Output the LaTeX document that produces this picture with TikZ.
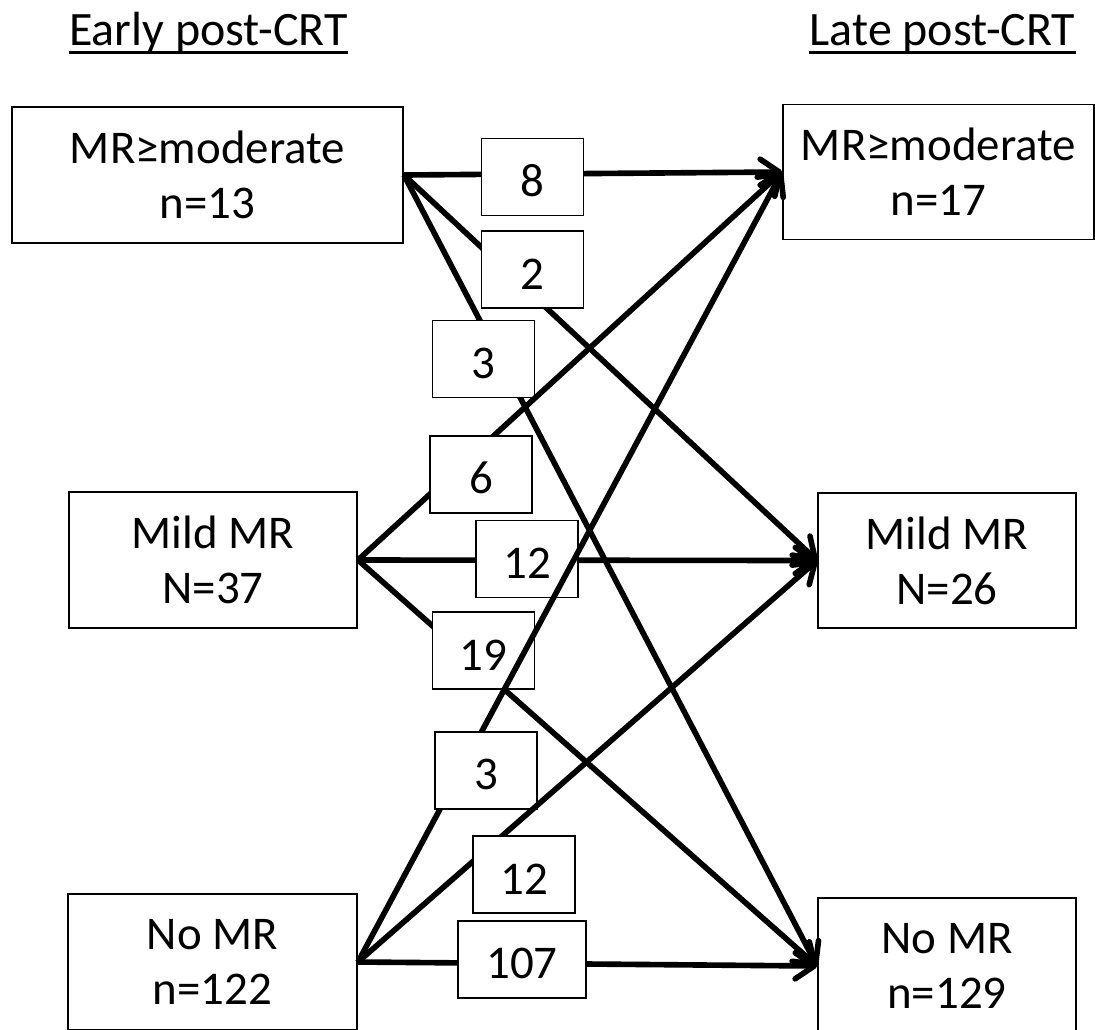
\documentclass[tikz,border=0pt]{standalone}
\usepackage{fontspec}
\setmainfont{Carlito}
\usepackage{tikz}
\usetikzlibrary{arrows.meta, positioning}

\begin{document}
\begin{tikzpicture}[x=0.02cm, y=-0.02cm, >={Straight Barb[length=0.38cm, width=0.52cm, round]},
    flow/.style={->, line width=3.2pt},
    grp/.style={draw, line width=1.1pt, inner sep=0pt, minimum height=2.72cm, align=center,
                font=\fontsize{26.7}{31.3}\selectfont},
    cnt/.style={draw, fill=white, line width=1pt, inner sep=0pt, minimum width=2.04cm,
                minimum height=1.54cm, text height=0.78cm, font=\fontsize{26.7}{31.3}\selectfont},
    hdr/.style={inner sep=0pt, anchor=base, font=\fontsize{27.3}{32}\selectfont}]
    \useasboundingbox (0,0) rectangle (1095,1029);
    % column titles, underlined
    \node[hdr] (early) at (208.5,45) {Early post-CRT};
    \node[hdr] (late) at (942.5,45) {Late post-CRT};
    \draw[line width=0.06cm] ([yshift=-0.15cm]early.base west) -- ([yshift=-0.15cm]early.base east);
    \draw[line width=0.06cm] ([yshift=-0.15cm]late.base west) -- ([yshift=-0.15cm]late.base east);
    % early groups (left)
    \node[grp, minimum width=7.82cm] (e1) at (207.5,175) {MR≥moderate\\n=13};
    \node[grp, minimum width=5.76cm] (e2) at (213,560) {Mild MR\\N=37};
    \node[grp, minimum width=5.78cm] (e3) at (212.5,962) {No MR\\n=122};
    % late groups (right)
    \node[grp, minimum width=6.22cm, minimum height=2.7cm] (l1) at (938.5,172) {MR≥moderate\\n=17};
    \node[grp, minimum width=5.16cm, minimum height=2.7cm] (l2) at (947,560.5) {Mild MR\\N=26};
    \node[grp, minimum width=5.16cm] (l3) at (947,966) {No MR\\n=129};
    % out of MR>=moderate
    \draw[flow] (e1.east) -- (l1.west);
    \node[cnt] (c11) at (532.5,177) {8};
    \draw[flow] (e1.east) -- (l2.west);
    \node[cnt] (c12) at (532.5,269.5) {2};
    \draw[flow] (e1.east) -- (l3.west);
    \node[cnt] (c13) at (483.5,359) {3};
    % out of mild MR
    \draw[flow] (e2.east) -- (l1.west);
    \node[cnt] (c21) at (481,474.5) {6};
    \draw[flow] (e2.east) -- (l2.west);
    \node[cnt] (c22) at (527,559) {12};
    \draw[flow] (e2.east) -- (l3.west);
    \node[cnt] (c23) at (483.5,650.5) {19};
    % out of no MR
    \draw[flow] (e3.east) -- (l1.west);
    \node[cnt] (c31) at (486,770.5) {3};
    \draw[flow] (e3.east) -- (l2.west);
    \node[cnt] (c32) at (524,874.5) {12};
    \draw[flow] (e3.east) -- (l3.west);
    \node[cnt, minimum width=2.56cm] (c33) at (522,959.5) {107};
\end{tikzpicture}
\end{document}
